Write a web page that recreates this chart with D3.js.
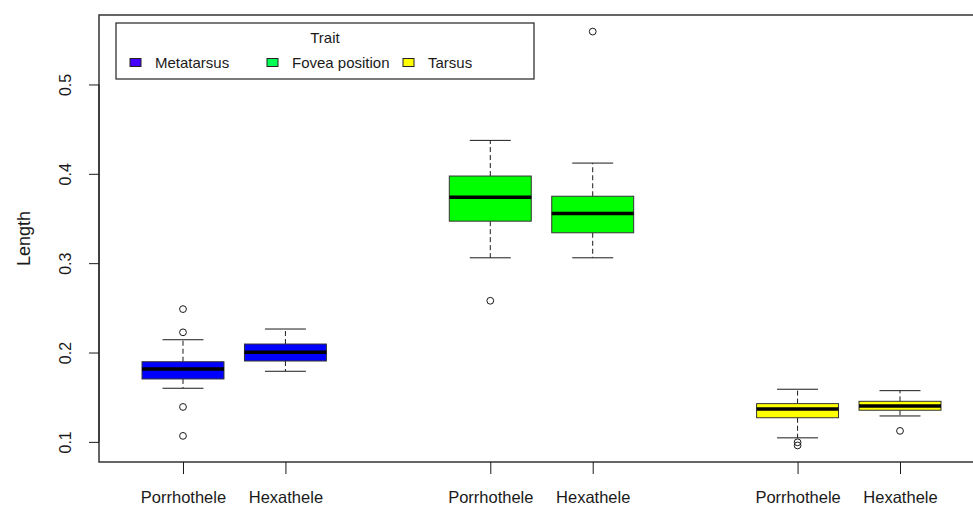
<!DOCTYPE html>
<html>
<head>
<meta charset="utf-8">
<script src="https://cdn.jsdelivr.net/npm/d3@7/dist/d3.min.js"></script>
<style>
  html, body { margin: 0; padding: 0; background: #fff; }
  svg { display: block; font-family: "Liberation Sans", Arial, sans-serif; }
</style>
</head>
<body>
<svg id="chart" width="973" height="507"></svg>
<script>
// Genera and traits shown in the grouped boxplot
const genera = ["Porrhothele", "Hexathele"];
const traits = ["Metatarsus", "Fovea position", "Tarsus"];

// Five-number summaries, one entry per box (trait-major, genus-minor)
const whiskerLow  = [0.160, 0.179, 0.306, 0.306, 0.1045, 0.129];
const quartile1   = [0.1704, 0.1905, 0.347, 0.334, 0.127, 0.1354];
const medians     = [0.1816, 0.2002, 0.3737, 0.3555, 0.1369, 0.1402];
const quartile3   = [0.1897, 0.2095, 0.3975, 0.3749, 0.1428, 0.1454];
const whiskerHigh = [0.2143, 0.2263, 0.4374, 0.412, 0.1589, 0.1573];
const outliers    = [[0.2486, 0.2226, 0.1391, 0.1067], [], [0.2579], [0.5592], [0.0995, 0.096], [0.1123]];

// Y axis ticks
const yTicks = [0.1, 0.2, 0.3, 0.4, 0.5];

// Fill colours
const boxFill = ["#0000FF", "#00FF00", "#FFFF00"];
const legendFill = ["#4400FF", "#00FF55", "#FFFF00"];

// Box positions along x: two genera per trait, one empty slot between traits
const boxes = medians.map((m, i) => {
  const t = Math.floor(i / genera.length), g = i % genera.length;
  return {
    pos: t * (genera.length + 1) + g + 1,
    genus: genera[g], trait: t,
    lo: whiskerLow[i], q1: quartile1[i], med: m, q3: quartile3[i], hi: whiskerHigh[i],
    out: outliers[i]
  };
});

const svg = d3.select("#chart");
const plot = { left: 99, right: 984, top: 15, bottom: 462 };

// Axis ranges padded by 4% like base-R graphics
const allVals = boxes.flatMap(b => [b.lo, b.hi, ...b.out]);
const [vMin, vMax] = d3.extent(allVals);
const pad = (vMax - vMin) * 0.04;
const y = d3.scaleLinear().domain([vMin - pad, vMax + pad]).range([plot.bottom, plot.top]);

const pMin = 0.5, pMax = d3.max(boxes, b => b.pos) + 0.5;
const xPad = (pMax - pMin) * 0.04;
const x = d3.scaleLinear().domain([pMin - xPad, pMax + xPad]).range([plot.left, plot.right]);

const unit = x(1) - x(0);
const boxW = 0.8 * unit;
const capW = 0.4 * unit;
const ink = "#1a1a1a";

// Boxes
const g = svg.append("g");
boxes.forEach(b => {
  const cx = x(b.pos);
  // whiskers (dashed)
  g.append("line").attr("x1", cx).attr("x2", cx).attr("y1", y(b.q3)).attr("y2", y(b.hi))
    .attr("stroke", ink).attr("stroke-dasharray", "5,3");
  g.append("line").attr("x1", cx).attr("x2", cx).attr("y1", y(b.q1)).attr("y2", y(b.lo))
    .attr("stroke", ink).attr("stroke-dasharray", "5,3");
  // staples
  [b.lo, b.hi].forEach(v => {
    g.append("line").attr("x1", cx - capW / 2).attr("x2", cx + capW / 2)
      .attr("y1", y(v)).attr("y2", y(v)).attr("stroke", ink);
  });
  // box
  g.append("rect").attr("x", cx - boxW / 2).attr("width", boxW)
    .attr("y", y(b.q3)).attr("height", y(b.q1) - y(b.q3))
    .attr("fill", boxFill[b.trait]).attr("stroke", "#333").attr("stroke-width", 1);
  // median
  g.append("line").attr("x1", cx - boxW / 2).attr("x2", cx + boxW / 2)
    .attr("y1", y(b.med)).attr("y2", y(b.med)).attr("stroke", "#000").attr("stroke-width", 3.5);
  // outliers
  b.out.forEach(v => {
    g.append("circle").attr("cx", cx).attr("cy", y(v)).attr("r", 3.4)
      .attr("fill", "none").attr("stroke", ink).attr("stroke-width", 1);
  });
});

// Plot frame
svg.append("rect").attr("x", plot.left).attr("y", plot.top)
  .attr("width", plot.right - plot.left).attr("height", plot.bottom - plot.top)
  .attr("fill", "none").attr("stroke", "#333").attr("stroke-width", 1.5);

// Y axis
const yAxis = svg.append("g").attr("transform", `translate(${plot.left},0)`)
  .call(d3.axisLeft(y).tickValues(yTicks).tickSize(10).tickFormat(d3.format(".1f")));
yAxis.select(".domain").attr("stroke", ink).attr("d", `M-0,${y(yTicks[0])}V${y(yTicks[yTicks.length - 1])}`);
yAxis.selectAll(".tick line").attr("stroke", ink);
yAxis.selectAll(".tick text")
  .attr("x", 0).attr("y", 0).attr("dy", null)
  .attr("transform", "translate(-28,0) rotate(-90)")
  .attr("text-anchor", "middle")
  .attr("font-size", 16).attr("fill", ink)
  .attr("font-family", "Liberation Sans, Arial, sans-serif");

// X axis
const positions = boxes.map(b => b.pos);
const labelByPos = new Map(boxes.map(b => [b.pos, b.genus]));
const xAxis = svg.append("g").attr("transform", `translate(0,${plot.bottom})`)
  .call(d3.axisBottom(x).tickValues(positions).tickSize(12).tickFormat(p => labelByPos.get(p)));
xAxis.select(".domain").remove();
xAxis.selectAll(".tick line").attr("stroke", ink);
xAxis.selectAll(".tick text").attr("y", 29).attr("dy", "0.71em")
  .attr("font-size", 16.5).attr("fill", ink)
  .attr("font-family", "Liberation Sans, Arial, sans-serif");

// Y axis title
svg.append("text").attr("transform", `translate(30,${(plot.top + plot.bottom) / 2}) rotate(-90)`)
  .attr("text-anchor", "middle").attr("font-size", 18).attr("fill", ink).text("Length");

// Legend
const lg = svg.append("g");
lg.append("rect").attr("x", 116).attr("y", 23).attr("width", 418).attr("height", 56)
  .attr("fill", "#fff").attr("stroke", "#222").attr("stroke-width", 1.2);
lg.append("text").attr("x", 325).attr("y", 43).attr("text-anchor", "middle")
  .attr("font-size", 15).attr("fill", ink).text("Trait");
const itemX = [130, 267, 403];
traits.forEach((t, i) => {
  lg.append("rect").attr("x", itemX[i]).attr("y", 58.5).attr("width", 11).attr("height", 8)
    .attr("fill", legendFill[i]).attr("stroke", "#222").attr("stroke-width", 1);
  lg.append("text").attr("x", itemX[i] + 25).attr("y", 68)
    .attr("font-size", 15).attr("fill", ink).text(t);
});
</script>
</body>
</html>
